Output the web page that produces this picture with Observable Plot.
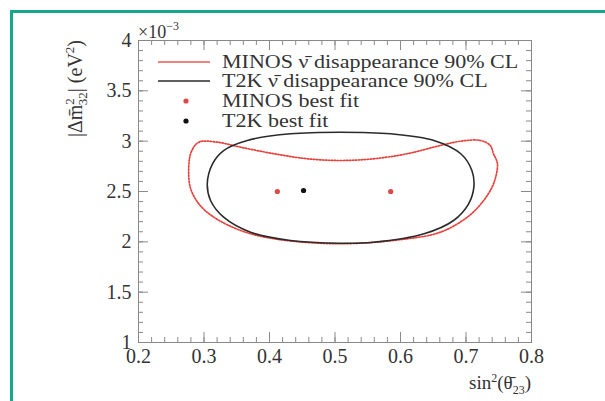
<!DOCTYPE html>
<html><head><meta charset="utf-8">
<script src="https://cdn.jsdelivr.net/npm/d3@7"></script>
<script src="https://cdn.jsdelivr.net/npm/@observablehq/plot@0.6"></script>
<style>
html,body{margin:0;padding:0;background:#fff;overflow:hidden;width:605px;height:401px}
#wrap{position:relative;width:605px;height:401px;overflow:hidden}
#border{position:absolute;left:10px;top:10px;width:640px;height:440px;border:3px solid #17a88b;box-sizing:border-box}
#chart{position:absolute;left:0;top:0}
</style></head><body>
<div id="wrap"><div id="border"></div><div id="chart"></div></div>
<script>
// MINOS antineutrino 90% CL contour (sin^2 theta23, |dm2_32| in 1e-3 eV^2)
const minosX = [0.292,0.281,0.277,0.279,0.292,0.315,0.356,0.407,0.508,0.610,0.661,0.702,0.727,0.742,0.748,0.742,0.737,0.722,0.692,0.661,0.610,0.559,0.508,0.458,0.407,0.356,0.320];
const minosY = [2.990,2.900,2.775,2.543,2.378,2.245,2.113,2.030,1.981,2.030,2.096,2.245,2.411,2.577,2.775,2.874,2.957,3.007,3.000,2.957,2.875,2.825,2.808,2.825,2.875,2.940,2.990];
// T2K antineutrino 90% CL contour
const t2kX = [0.305,0.313,0.330,0.366,0.432,0.508,0.585,0.651,0.692,0.709,0.712,0.704,0.681,0.636,0.559,0.508,0.432,0.371,0.330,0.310];
const t2kY = [2.577,2.775,2.907,3.007,3.073,3.089,3.073,3.007,2.875,2.709,2.543,2.378,2.212,2.080,1.996,1.986,2.013,2.096,2.245,2.411];
// best fits
const bestExp = ["MINOS","MINOS","T2K"];
const bestX = [0.412,0.585,0.452];
const bestY = [2.50,2.50,2.51];
// ticks
const xTicks = [0.2,0.3,0.4,0.5,0.6,0.7,0.8];
const yTicks = [1,1.5,2,2.5,3,3.5,4];
const xMinor = d3.range(0.2,0.8001,0.02);
const yMinor = d3.range(1,4.001,0.1);
// legend
const legendLabels = ["MINOS \u03BD\u0304 disappearance 90% CL","T2K \u03BD\u0304 disappearance 90% CL","MINOS best fit","T2K best fit"];
const legendKind = ["dotted","line","dot","dot"];
const legendColor = ["#ec5a55","#2b2b2b","#e04848","#111"];

const minos = minosX.map((x,i)=>({x, y:minosY[i]}));
const t2k = t2kX.map((x,i)=>({x, y:t2kY[i]}));
const best = bestX.map((x,i)=>({x, y:bestY[i], exp:bestExp[i]}));

const W=605,H=401,mL=138,mR=74,mT=40,mB=59;
const fw=W-mL-mR, fh=H-mT-mB;
const tc="#8a8a8a";
const plot = Plot.plot({
  width:W,height:H,marginLeft:mL,marginRight:mR,marginTop:mT,marginBottom:mB,
  style:{fontFamily:"'Liberation Serif', serif",fontSize:"20px",color:"#333",background:"transparent"},
  x:{domain:[0.2,0.8]},
  y:{domain:[1,4]},
  marks:[
    Plot.tickX(xMinor,{x:d=>d,insetTop:fh-5,stroke:tc}),
    Plot.tickX(xMinor,{x:d=>d,insetBottom:fh-5,stroke:tc}),
    Plot.tickX(xTicks,{x:d=>d,insetTop:fh-10,stroke:tc}),
    Plot.tickX(xTicks,{x:d=>d,insetBottom:fh-10,stroke:tc}),
    Plot.tickY(yMinor,{y:d=>d,insetRight:fw-5,stroke:tc}),
    Plot.tickY(yMinor,{y:d=>d,insetLeft:fw-5,stroke:tc}),
    Plot.tickY(yTicks,{y:d=>d,insetRight:fw-10,stroke:tc}),
    Plot.tickY(yTicks,{y:d=>d,insetLeft:fw-10,stroke:tc}),
    Plot.frame({stroke:"#888"}),
    Plot.axisX({ticks:xTicks,tickSize:0,tickPadding:6,label:null,tickFormat:d=>d.toFixed(1)}),
    Plot.axisY({ticks:yTicks,tickSize:0,tickPadding:7,label:null,tickFormat:d=>String(d)}),
    Plot.line(minos,{x:"x",y:"y",curve:"catmull-rom-closed",stroke:"#e8413c",strokeWidth:1.7,strokeDasharray:"1.4,1.6"}),
    Plot.line(t2k,{x:"x",y:"y",curve:"catmull-rom-closed",stroke:"#2b2b2b",strokeWidth:1.6}),
    Plot.dot(best,{x:"x",y:"y",r:2.6,fill:d=>d.exp==="MINOS"?"#e04848":"#111",stroke:"none"})
  ]
});
document.getElementById("chart").appendChild(plot);
const svg = d3.select(plot);
// exponent label
const ex = svg.append("text").attr("x",138).attr("y",38).attr("text-anchor","start").attr("fill","#333").style("font-size","18px");
ex.append("tspan").text("\u00D710");
ex.append("tspan").attr("dy",-8).style("font-size","12px").text("\u22123");
// y title
const yt = svg.append("text").attr("transform","translate(82,40) rotate(-90)").attr("text-anchor","end").attr("fill","#333").style("font-size","20px");
yt.append("tspan").text("|\u0394m\u0304");
yt.append("tspan").attr("dy",-8).style("font-size","13px").text("2");
yt.append("tspan").attr("dx",-7).attr("dy",13).style("font-size","13px").text("32");
yt.append("tspan").attr("dy",-5).text("| (eV");
yt.append("tspan").attr("dy",-8).style("font-size","13px").text("2");
yt.append("tspan").attr("dy",8).text(")");
// x title
const xt = svg.append("text").attr("x",531).attr("y",389).attr("text-anchor","end").attr("fill","#333").style("font-size","19px");
xt.append("tspan").text("sin");
xt.append("tspan").attr("dy",-7).style("font-size","12px").text("2");
xt.append("tspan").attr("dy",7).text("(\u03B8\u0304");
xt.append("tspan").attr("dy",5).style("font-size","12px").text("23");
xt.append("tspan").attr("dy",-5).text(")");
// legend
const lg = svg.append("g").attr("text-anchor","start");
const rowY=[62,81,101,121];
legendLabels.forEach((t,i)=>{
  const y=rowY[i];
  if(legendKind[i]==="dotted"||legendKind[i]==="line"){
    lg.append("line").attr("x1",158).attr("x2",210).attr("y1",y).attr("y2",y)
      .attr("stroke",legendColor[i]).attr("stroke-width",1.7);
  } else {
    lg.append("circle").attr("cx",186).attr("cy",y).attr("r",2.6).attr("fill",legendColor[i]);
  }
  lg.append("text").attr("transform",`translate(222,${y+6}) scale(1.16,1)`).attr("text-anchor","start").attr("fill","#333").style("font-size","19px").text(t);
});
</script>
</body></html>
